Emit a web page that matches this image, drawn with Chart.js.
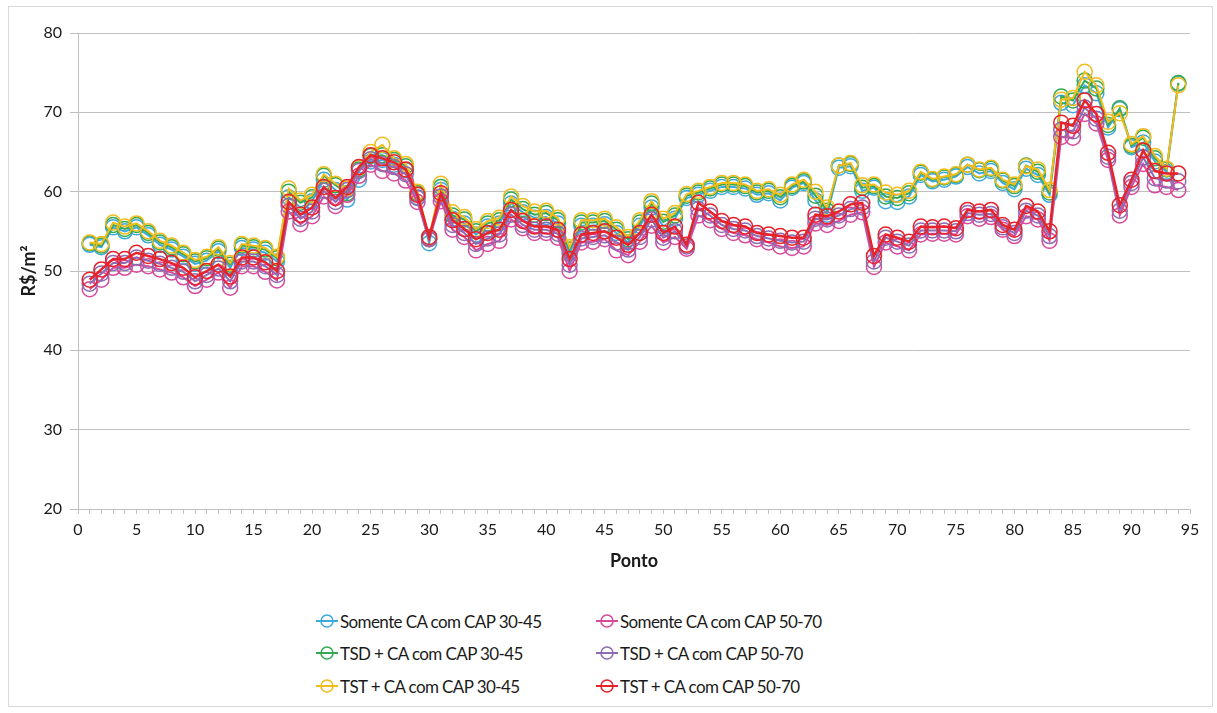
<!DOCTYPE html>
<html>
<head>
<meta charset="utf-8">
<script src="https://cdn.jsdelivr.net/npm/chart.js@4.4.1/dist/chart.umd.min.js"></script>
<style>
  body { margin: 0; background: #fff; font-family: Lato, sans-serif; }
  #frame { position: absolute; left: 8px; top: 6px; width: 1203px; height: 699px; border: 1px solid #d9d9d9; }
  #wrap { position: absolute; left: 0; top: 0; width: 1217px; height: 590px; }
  .item { position: absolute; height: 20px; display: flex; align-items: center; font-size: 17px; letter-spacing: -0.6px; color: #1a1a1a; white-space: nowrap; }
  .item canvas { margin-right: 2px; }
</style>
</head>
<body>
<div id="frame"></div>
<div id="wrap"><canvas id="myChart"></canvas></div>
<div id="legend"></div>
<script>
const ponto = [1,2,3,4,5,6,7,8,9,10,11,12,13,14,15,16,17,18,19,20,21,22,23,24,25,26,27,28,29,30,
  31,32,33,34,35,36,37,38,39,40,41,42,43,44,45,46,47,48,49,50,51,52,53,54,55,56,57,58,59,60,
  61,62,63,64,65,66,67,68,69,70,71,72,73,74,75,76,77,78,79,80,81,82,83,84,85,86,87,88,89,90,
  91,92,93,94]

// Somente CA com CAP 30-45
const somente3045 = [53.3,53.0,55.5,55.0,55.5,54.5,53.3,52.7,51.8,50.9,51.3,52.5,50.4,52.9,52.7,52.3,51.2,59.3,58.0,58.8,
  61.5,60.2,59.0,61.5,63.8,64.0,63.4,62.7,59.3,53.5,60.2,56.6,56.0,54.6,55.6,56.0,58.5,57.4,56.7,56.8,
  56.0,52.2,55.7,55.7,55.9,54.8,53.6,55.7,58.0,55.6,56.6,59.2,59.6,60.1,60.6,60.6,60.4,59.6,59.8,58.9,
  60.5,61.1,58.9,57.1,63.0,63.2,60.1,60.5,58.8,58.7,59.4,62.1,61.3,61.5,61.9,63.1,62.3,62.6,61.1,60.3,
  62.9,62.1,59.6,71.2,70.9,73.4,72.4,68.1,70.4,65.6,66.2,63.8,62.5,73.6]
// TSD + CA com CAP 30-45
const tsd3045 = [53.5,53.2,55.8,55.3,55.8,54.8,53.6,53.0,52.1,51.2,51.6,52.8,50.8,53.2,53.0,52.7,51.6,60.0,58.6,59.3,
  62.0,60.8,59.8,62.8,64.5,64.6,64.0,63.2,59.8,54.0,60.6,57.0,56.5,55.0,56.0,56.4,59.0,57.8,57.1,57.3,
  56.4,52.7,56.1,56.1,56.3,55.2,54.0,56.1,58.5,56.2,57.0,59.5,59.9,60.4,60.9,60.9,60.7,59.9,60.1,59.3,
  60.7,61.3,59.5,57.6,63.3,63.5,60.5,60.7,59.4,59.2,59.8,62.4,61.5,61.8,62.1,63.4,62.7,62.9,61.4,60.7,
  63.3,62.5,59.9,72.0,71.5,74.0,73.0,68.4,70.5,65.8,66.8,64.2,62.8,73.7]
// TST + CA com CAP 30-45
const tst3045 = [53.6,53.4,56.1,55.6,56.0,55.0,53.8,53.2,52.3,51.4,51.8,53.0,51.0,53.4,53.2,52.9,51.8,60.4,58.9,59.6,
  62.2,61.0,60.4,63.0,65.0,65.9,64.2,63.5,60.0,54.2,61.0,57.4,56.8,55.3,56.3,56.7,59.4,58.2,57.5,57.6,
  56.7,53.0,56.4,56.4,56.6,55.5,54.3,56.4,58.8,56.6,57.3,59.7,60.1,60.6,61.1,61.1,60.9,60.1,60.3,59.6,
  60.9,61.5,60.0,58.0,63.3,63.6,60.8,60.9,59.9,59.6,60.1,62.5,61.6,61.9,62.2,63.4,62.8,63.0,61.5,60.9,
  63.2,62.8,60.2,71.6,71.8,75.1,73.4,68.8,69.9,66.0,67.0,64.5,62.9,73.4]
// Somente CA com CAP 50-70
const somente5070 = [47.7,48.9,50.4,50.4,50.8,50.6,50.2,49.8,49.2,48.1,48.9,49.8,47.9,50.6,50.6,49.9,48.8,57.5,55.9,56.9,
  59.4,58.2,59.6,62.0,63.4,62.6,62.3,61.4,58.7,54.0,58.8,55.2,54.3,52.6,53.4,53.8,56.5,55.4,54.8,54.8,
  54.2,50.0,53.6,53.7,54.0,52.6,52.0,53.7,55.7,53.6,54.3,52.8,57.0,56.4,55.3,54.8,54.5,54.0,53.6,53.1,
  52.9,53.1,56.0,55.8,56.3,57.1,57.4,50.5,53.6,53.1,52.6,54.6,54.7,54.7,54.6,56.9,56.6,56.8,55.2,54.4,
  56.9,56.5,53.8,66.9,66.8,69.8,68.6,64.0,57.0,60.6,63.5,60.8,60.6,60.2]
// TSD + CA com CAP 50-70
const tsd5070 = [48.4,49.7,51.0,51.0,51.7,51.3,50.9,50.4,49.9,48.7,49.5,50.3,48.7,51.2,51.2,50.6,49.5,58.2,56.6,57.5,
  60.1,58.7,60.2,62.6,64.1,63.5,63.1,62.2,59.2,54.1,59.4,55.8,54.8,53.4,54.1,54.6,57.1,55.8,55.2,55.2,
  54.7,50.8,54.1,54.3,54.5,53.6,52.7,54.3,56.5,54.2,55.0,53.1,57.8,57.0,55.8,55.3,55.1,54.4,54.1,53.8,
  53.6,53.7,56.6,56.5,57.0,57.8,58.0,51.2,54.2,53.7,53.2,55.1,55.1,55.1,55.0,57.3,57.1,57.2,55.5,54.8,
  57.6,57.0,54.4,67.8,67.6,70.6,69.2,64.4,57.6,61.1,64.3,61.7,61.4,61.3]
// TST + CA com CAP 50-70
const tst5070 = [48.9,50.2,51.5,51.5,52.3,51.9,51.5,51.0,50.4,49.2,50.0,50.8,49.3,51.7,51.7,51.1,50.0,58.7,57.1,58.0,
  60.6,59.2,60.6,63.1,64.6,64.2,63.7,62.8,59.6,54.3,59.8,56.4,55.3,54.0,54.8,55.2,57.7,56.3,55.6,55.6,
  55.2,51.5,54.6,54.8,55.0,54.2,53.3,54.8,57.1,54.8,55.6,53.3,58.6,57.5,56.3,55.8,55.6,54.8,54.6,54.4,
  54.2,54.2,57.1,56.9,57.5,58.4,58.6,51.9,54.6,54.2,53.7,55.6,55.5,55.6,55.4,57.7,57.5,57.7,55.8,55.2,
  58.2,57.5,55.0,68.7,68.3,71.5,69.8,64.9,58.3,61.5,65.2,62.6,62.3,62.3]

const yTicks = [20, 30, 40, 50, 60, 70, 80]

const series = [
  {label: 'Somente CA com CAP 30-45', values: somente3045, color: '#3fa8dc', order: 6},
  {label: 'TSD + CA com CAP 30-45', values: tsd3045, color: '#34a853', order: 5},
  {label: 'TST + CA com CAP 30-45', values: tst3045, color: '#f1bc1c', order: 4},
  {label: 'Somente CA com CAP 50-70', values: somente5070, color: '#d8489b', order: 3},
  {label: 'TSD + CA com CAP 50-70', values: tsd5070, color: '#8a6db2', order: 2},
  {label: 'TST + CA com CAP 50-70', values: tst5070, color: '#e6222b', order: 1}
]

const fontFam = 'Lato, sans-serif'

const ctx = document.getElementById('myChart').getContext('2d')
const myChart = new Chart(ctx, {
  type: 'line',
  data: {
    datasets: series.map(s => ({
      label: s.label,
      data: ponto.map((p, i) => ({x: p, y: s.values[i]})),
      borderColor: s.color,
      backgroundColor: 'transparent',
      pointBorderColor: s.color,
      pointBackgroundColor: 'transparent',
      pointRadius: 7.5,
      pointBorderWidth: 1.5,
      borderWidth: s.order === 1 ? 2.5 : 2,
      order: s.order,
      tension: 0
    }))
  },
  options: {
    responsive: true,
    maintainAspectRatio: false,
    animation: false,
    layout: {padding: {top: 33, right: 27, left: 0, bottom: 10}},
    plugins: {legend: {display: false}, tooltip: {enabled: false}},
    scales: {
      x: {
        type: 'linear', min: 0, max: 95,
        afterFit: s => { s.height = 71 },
        ticks: {
          stepSize: 1, autoSkip: false, maxRotation: 0, padding: 6,
          color: '#1a1a1a', font: {family: fontFam, size: 16},
          callback: v => (v % 5 === 0 ? v : '')
        },
        grid: {drawOnChartArea: false, tickLength: 5, color: '#bfbfbf'},
        border: {color: '#bfbfbf'},
        title: {display: true, text: 'Ponto', color: '#1a1a1a',
          font: {family: fontFam, size: 18, weight: 'bold'}, padding: {top: 4, bottom: 8}}
      },
      y: {
        min: 20, max: 80,
        afterFit: s => { s.width = 78 },
        afterBuildTicks: s => { s.ticks = yTicks.map(v => ({value: v})) },
        ticks: {padding: 8, color: '#1a1a1a', font: {family: fontFam, size: 16}},
        grid: {color: '#bfbfbf', tickLength: 8},
        border: {color: '#bfbfbf'},
        title: {display: true, text: 'R$/m²', color: '#1a1a1a',
          font: {family: fontFam, size: 18, weight: 'bold'}, padding: {top: 18, bottom: 0}}
      }
    }
  }
})

// legend in two columns, like the original
const legendOrder = [0, 3, 1, 4, 2, 5]
const legendEl = document.getElementById('legend')
legendOrder.forEach((idx, k) => {
  const s = series[idx]
  const item = document.createElement('div')
  item.className = 'item'
  item.style.left = (k % 2 === 0 ? 316 : 596) + 'px'
  item.style.top = ([621, 653, 686][Math.floor(k / 2)] - 10) + 'px'
  const ic = document.createElement('canvas')
  ic.width = 22; ic.height = 16
  const c = ic.getContext('2d')
  c.strokeStyle = s.color; c.lineWidth = 2
  c.beginPath(); c.moveTo(0, 8); c.lineTo(22, 8); c.stroke()
  c.lineWidth = 1.5
  c.beginPath(); c.arc(11, 8, 6, 0, Math.PI * 2); c.stroke()
  item.appendChild(ic)
  item.appendChild(document.createTextNode(s.label))
  legendEl.appendChild(item)
})
</script>
</body>
</html>
